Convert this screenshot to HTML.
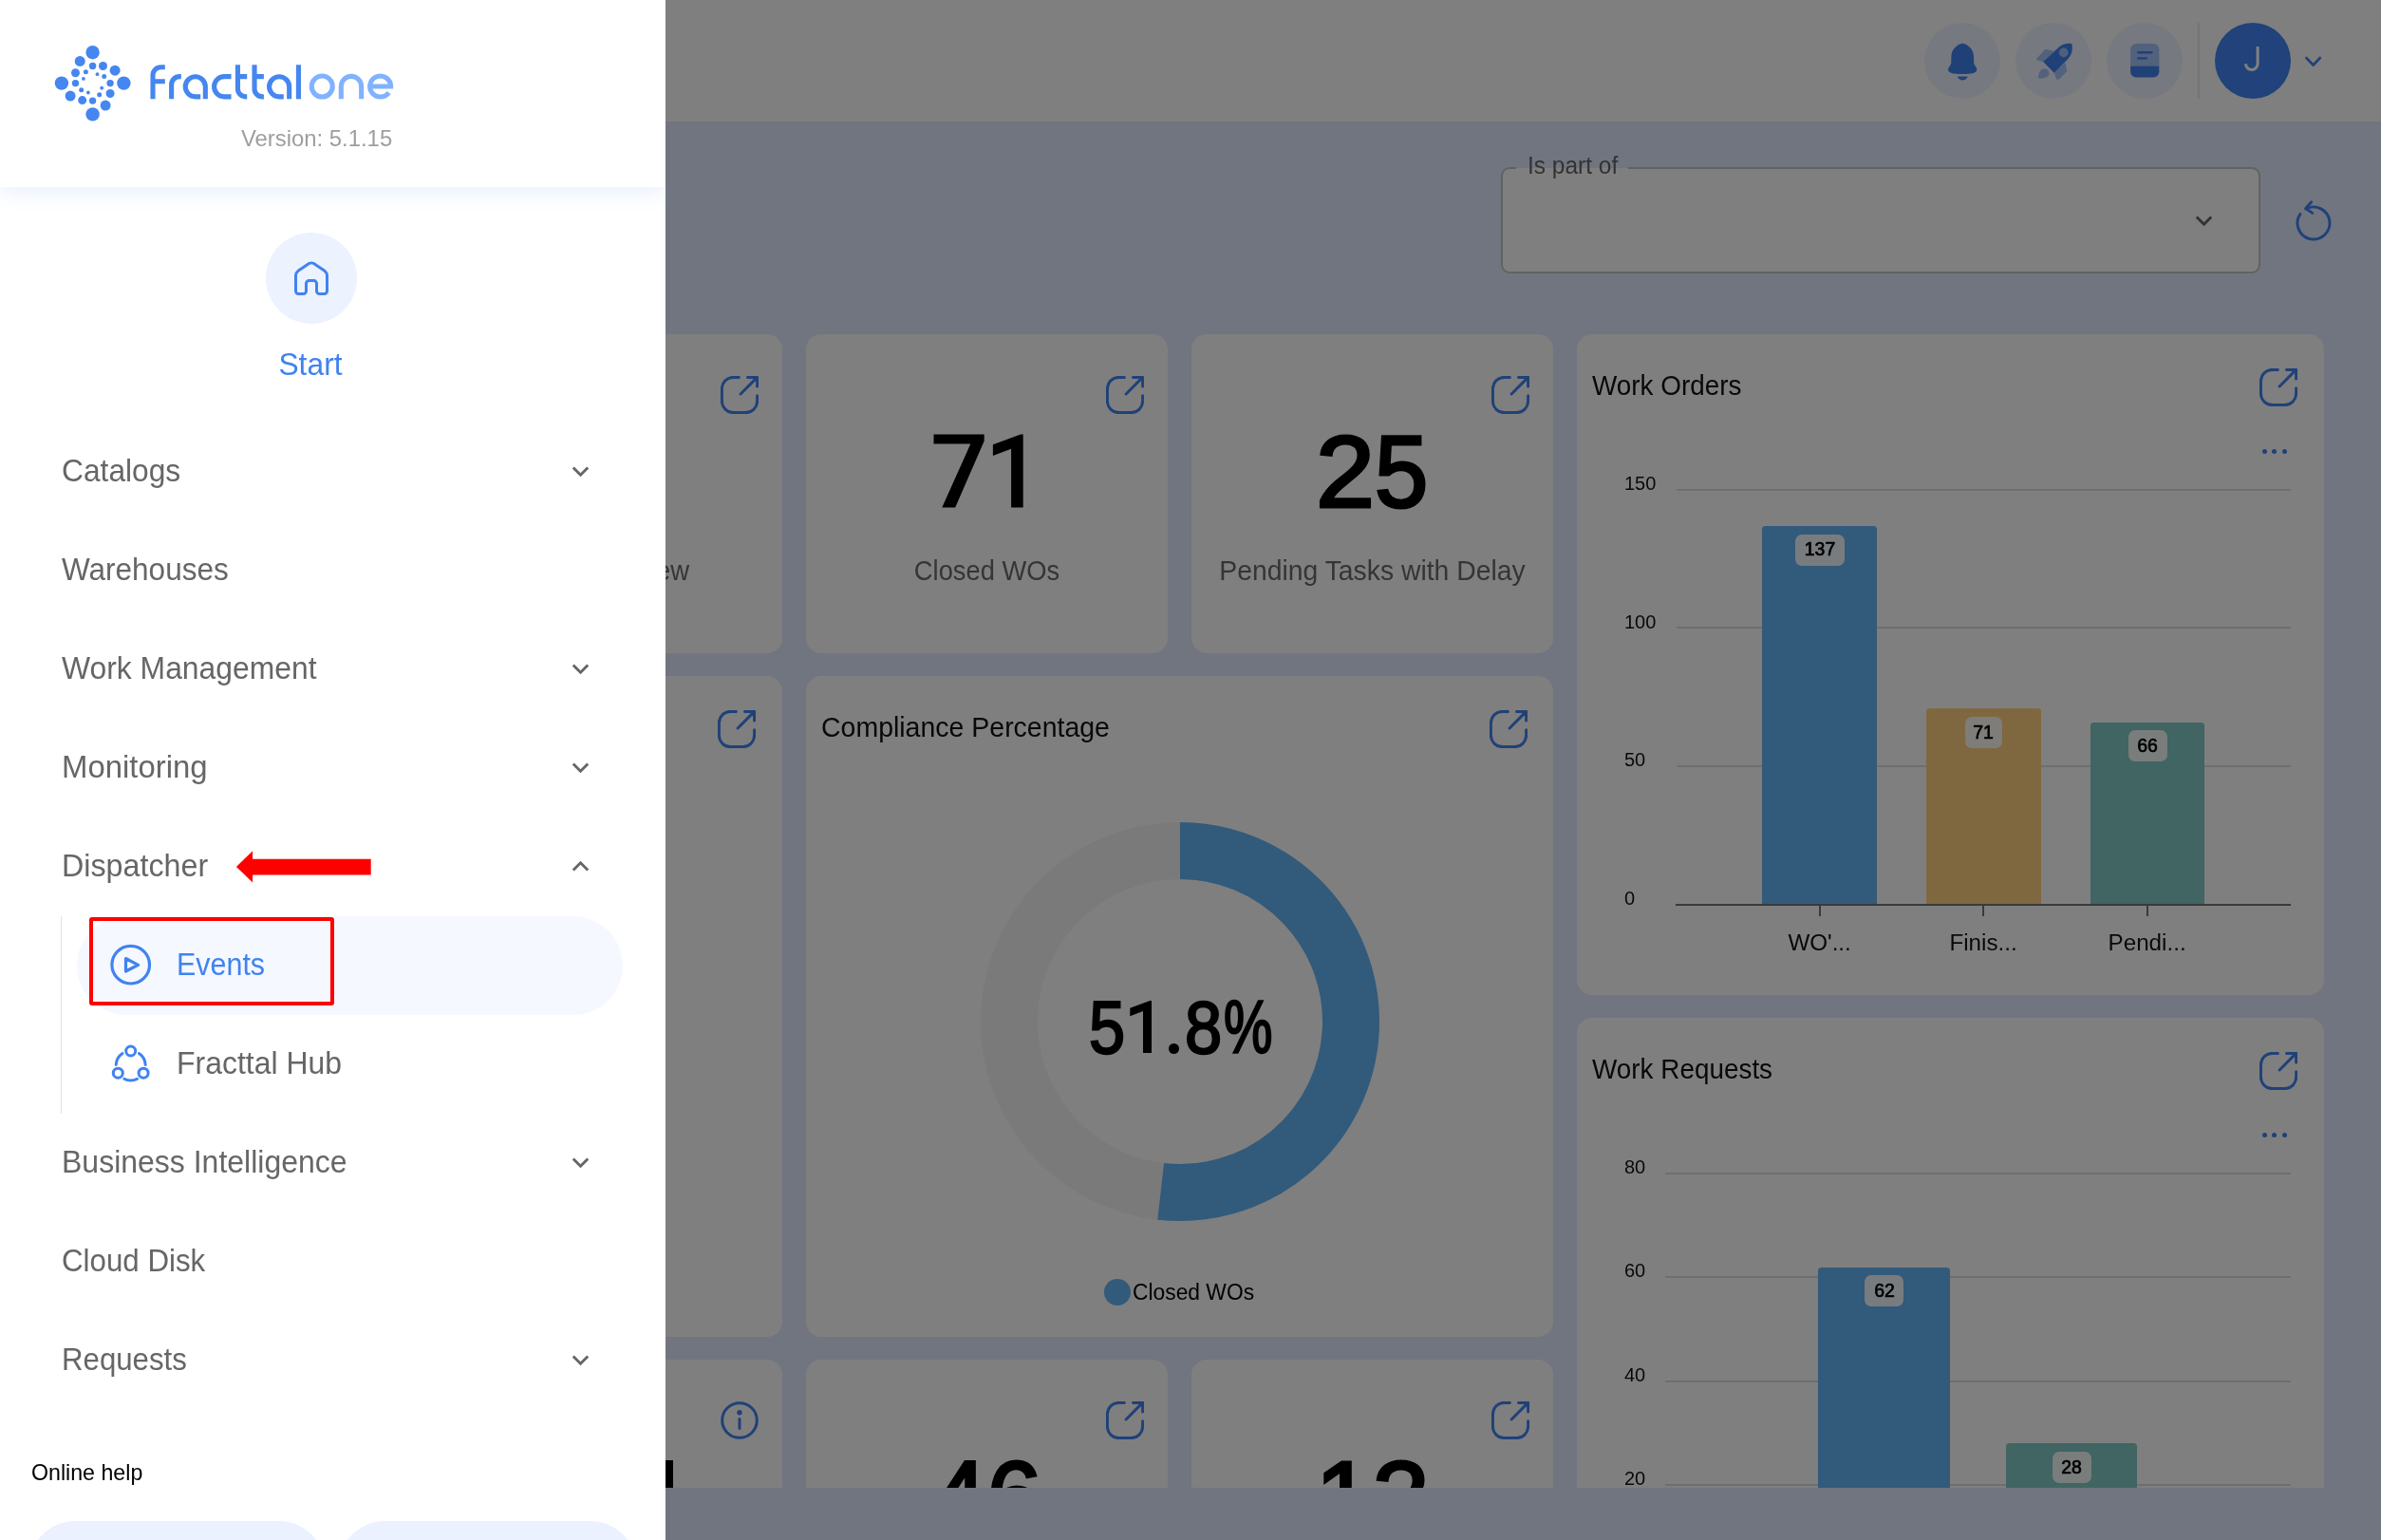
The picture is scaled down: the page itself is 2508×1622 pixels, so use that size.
<!DOCTYPE html>
<html lang="en">
<head>
<meta charset="utf-8">
<title>Fracttal One</title>
<style>
*{box-sizing:border-box;margin:0;padding:0}
html,body{width:2508px;height:1622px;overflow:hidden}
body{font-family:"Liberation Sans",sans-serif;background:#e3eafe;position:relative;color:#000}
.abs{position:absolute}
.t{position:absolute;white-space:nowrap;line-height:1}
/* ---------- page under overlay ---------- */
#page{position:absolute;left:0;top:0;width:2508px;height:1622px;background:#e3eafe;overflow:hidden;will-change:transform}
#topbar{position:absolute;left:0;top:0;width:2508px;height:128px;background:#fff}
.hcirc{position:absolute;top:24px;width:80px;height:80px;border-radius:50%;background:#ecf2ff}
#content{position:absolute;left:0;top:128px;width:2508px;height:1439px;overflow:hidden}
.card{position:absolute;background:#fff;border-radius:16px}
.kpi-num{position:absolute;left:0;width:100%;text-align:center;font-weight:bold;font-size:108px;line-height:1;color:#000;white-space:nowrap}
.kpi-lbl{position:absolute;left:0;width:100%;text-align:center;font-size:28px;line-height:1;color:#616161;white-space:nowrap}
.ctitle{position:absolute;font-size:28px;line-height:1;color:#111;white-space:nowrap}
.ext{position:absolute;width:44px;height:44px}
#overlay{position:absolute;left:0;top:0;width:2508px;height:1622px;background:rgba(0,0,0,.5)}
/* ---------- sidebar ---------- */
#side{position:absolute;left:0;top:0;width:701px;height:1622px;background:#fff;overflow:hidden;will-change:transform}
#sidehead{position:absolute;left:0;top:0;width:701px;height:197px;background:#fff;box-shadow:0 8px 18px rgba(66,133,244,.10)}
.mi{position:absolute;left:64.6px;margin-top:-0.4px;transform-origin:0 50%;font-size:33px;line-height:1;color:#666;white-space:nowrap}
.chev{position:absolute;left:593.8px;width:35px;height:35px;fill:#666}
</style>
</head>
<body>
<div id="page">
  <div id="topbar">
    <div class="hcirc" style="left:2027px"></div>
    <div class="hcirc" style="left:2123px"></div>
    <div class="hcirc" style="left:2219px"></div>
    <div class="abs" style="left:2315px;top:24px;width:1.8px;height:80px;background:#ebebeb"></div>
    <div class="abs" style="left:2333px;top:24px;width:80px;height:80px;border-radius:50%;background:#4285f4"></div>
    <svg class="abs" style="left:2333px;top:24px" width="80" height="80" viewBox="2333 24 80 80" fill="none" stroke="#fff" stroke-width="3.1"><path d="M2378.1,48.9V67.2A6.3,6.3 0 0 1 2365.5,67.2"/></svg>
    <svg class="abs" style="left:2020px;top:14px" width="290" height="100" viewBox="0 0 2381 821">
<g fill="#4083f0">
<path d="M387,260C412,260 432,278 452,296C476,318 485,350 485,385V420C485,440 498,455 507,470C518,490 508,510 482,517C440,528 335,528 293,517C267,510 257,490 268,470C277,455 290,440 290,420V385C290,350 299,318 323,296C343,278 362,260 387,260Z"/>
<path d="M343,545H433C426,565 407,578 388,578C369,578 350,565 343,545Z"/>
<path d="M1085,418L1222,292C1258,262 1300,258 1333,264C1342,300 1338,350 1300,395L1180,516Z"/>
<path d="M1840,455H2088V505A50,50 0 0 1 2038,555H1890A50,50 0 0 1 1840,505Z"/>
<rect x="1897" y="328" width="136" height="20" rx="10"/><rect x="1897" y="379" width="90" height="20" rx="10"/>
</g>
<g fill="#4083f0" fill-opacity=".42">
<circle cx="1262" cy="340" r="40" fill="#eef3fe" fill-opacity=".55"/>
<path d="M1028,392L1100,315Q1107,309 1117,312L1180,328L1085,418L1040,408Q1022,402 1028,392Z"/>
<path d="M1180,516L1276,424L1290,492Q1292,500 1286,507L1222,570Q1210,578 1200,568Z"/>
<path d="M1045,565C1040,540 1050,500 1075,484C1100,470 1128,485 1135,508C1140,530 1125,550 1100,557C1080,562 1060,566 1045,565Z"/>
<path d="M1840,455V313A50,50 0 0 1 1890,263H2038A50,50 0 0 1 2088,313V455Z"/>
</g></svg>
<svg class="abs" style="left:2420px;top:50px" width="34" height="30" viewBox="2420 50 34 30" fill="none" stroke="#4083f0" stroke-width="2.8" stroke-linecap="round" stroke-linejoin="round"><path d="M2429.5,61.1L2436.6,68.5L2443.7,61.1"/></svg>
  </div>
  <div id="content">
    <div class="abs" style="left:1581px;top:48px;width:800px;height:112px;border:2px solid #c4c4c4;border-radius:9px;background:#fff"></div>
    <div class="abs" style="left:1597px;top:46px;width:118px;height:6px;background:linear-gradient(#e3eafe 50%,#fff 50%)"></div>
    <div class="t" style="left:1609.2px;top:32.7px;font-size:26px;color:#666;transform-origin:0 50%;transform:scaleX(0.942);">Is part of</div>
    <svg class="abs" style="left:2303.8px;top:86.7px;fill:#666" width="35" height="35" viewBox="0 0 24 24"><path d="M16.59 8.59 12 13.17 7.41 8.59 6 10l6 6 6-6z"/></svg>
    <svg class="abs" style="left:2410.9px;top:80.80000000000001px" width="52" height="52" viewBox="-26 -26 52 52" fill="none" stroke="#4083f0" stroke-width="2.9" stroke-linecap="round" stroke-linejoin="round"><path d="M-8.09,-14.95A17,17 0 1 1 -14.03,-9.6"/><path d="M-2.34,-22.2L-8.4,-15.6L-1.3,-10.6"/></svg>
    <div class="card" style="left:443px;top:224px;width:381px;height:336px"></div><svg class="abs" style="left:759px;top:268px" width="40" height="40" viewBox="0 0 40 40" fill="none" stroke="#4083f0" stroke-width="3" stroke-linecap="round" stroke-linejoin="round"><path d="M19.3,1.4H13.4A12,12 0 0 0 1.4,13.4V26.6A12,12 0 0 0 13.4,38.6H26.6A12,12 0 0 0 38.6,26.6V20.8M21.1,19L38.6,1.4M28.6,1.4H38.6V11.1"/></svg>
    <div class="t" style="left:326px;top:458.6px;font-size:28.6px;color:#6a6a6a;width:400px;text-align:right;transform-origin:100% 50%;transform:scaleX(0.96);">Tasks in Review</div>
    <div class="card" style="left:849px;top:224px;width:381px;height:336px"></div><svg class="abs" style="left:1165px;top:268px" width="40" height="40" viewBox="0 0 40 40" fill="none" stroke="#4083f0" stroke-width="3" stroke-linecap="round" stroke-linejoin="round"><path d="M19.3,1.4H13.4A12,12 0 0 0 1.4,13.4V26.6A12,12 0 0 0 13.4,38.6H26.6A12,12 0 0 0 38.6,26.6V20.8M21.1,19L38.6,1.4M28.6,1.4H38.6V11.1"/></svg><div class="t" style="left:749px;top:458.6px;font-size:28.6px;color:#6a6a6a;width:581px;text-align:center;transform:scaleX(0.955);">Closed WOs</div>
    <svg class="abs" style="left:0;top:0;overflow:visible" width="1" height="1"><polygon points="983.5,329.5 1036.7,329.5 1036.7,336.6 1006.2,406.4 992.3,406.4 1022.3,339.6 983.5,339.6" fill="#000"/></svg><svg class="abs" style="left:0;top:0;overflow:visible" width="1" height="1"><polygon points="1077.7,329.5 1075.1,329.5 1045.9,340.3 1045.9,352.0 1065.1,344.7 1065.1,406.4 1077.7,406.4" fill="#000"/></svg>
    <div class="card" style="left:1255px;top:224px;width:381px;height:336px"></div><svg class="abs" style="left:1571px;top:268px" width="40" height="40" viewBox="0 0 40 40" fill="none" stroke="#4083f0" stroke-width="3" stroke-linecap="round" stroke-linejoin="round"><path d="M19.3,1.4H13.4A12,12 0 0 0 1.4,13.4V26.6A12,12 0 0 0 13.4,38.6H26.6A12,12 0 0 0 38.6,26.6V20.8M21.1,19L38.6,1.4M28.6,1.4H38.6V11.1"/></svg><div class="t" style="left:1155px;top:458.6px;font-size:28.6px;color:#6a6a6a;width:581px;text-align:center;transform:scaleX(0.991);">Pending Tasks with Delay</div>
    <div class="t" style="left:1386.1px;top:315.0px;font-size:108px;color:#000;-webkit-text-stroke:3.2px #000;transform-origin:0 50%;transform:scaleX(1.0327);">2</div><div class="t" style="left:1447.9px;top:315.0px;font-size:108px;color:#000;-webkit-text-stroke:3.2px #000;transform-origin:0 50%;transform:scaleX(0.937);">5</div>
    <div class="card" style="left:443px;top:584px;width:381px;height:696px"></div><svg class="abs" style="left:756px;top:620px" width="40" height="40" viewBox="0 0 40 40" fill="none" stroke="#4083f0" stroke-width="3" stroke-linecap="round" stroke-linejoin="round"><path d="M19.3,1.4H13.4A12,12 0 0 0 1.4,13.4V26.6A12,12 0 0 0 13.4,38.6H26.6A12,12 0 0 0 38.6,26.6V20.8M21.1,19L38.6,1.4M28.6,1.4H38.6V11.1"/></svg>
    <div class="card" style="left:849px;top:584px;width:787px;height:696px"></div><svg class="abs" style="left:1568.5px;top:620px" width="40" height="40" viewBox="0 0 40 40" fill="none" stroke="#4083f0" stroke-width="3" stroke-linecap="round" stroke-linejoin="round"><path d="M19.3,1.4H13.4A12,12 0 0 0 1.4,13.4V26.6A12,12 0 0 0 13.4,38.6H26.6A12,12 0 0 0 38.6,26.6V20.8M21.1,19L38.6,1.4M28.6,1.4H38.6V11.1"/></svg>
    <div class="t" style="left:865.1px;top:623.9px;font-size:28.6px;color:#111;transform-origin:0 50%;transform:scaleX(0.996);">Compliance Percentage</div>
    <svg class="abs" style="left:1023.4px;top:727.5px" width="440" height="440" viewBox="-220 -220 440 440" fill="none" stroke-width="60"><circle r="180.0" stroke="#f5f5f5"/><path d="M0,-180.0A180.0,180.0 0 1 1 -20.31,178.85" stroke="#64b5f6"/></svg>
    <div class="t" style="left:1146.5px;top:915.8px;font-size:77px;color:#000;-webkit-text-stroke:2.3px #000;transform-origin:0 50%;transform:scaleX(0.8897);">5</div>
    <svg class="abs" style="left:0;top:0;overflow:visible" width="1" height="1"><polygon points="1213.0,926.1 1211.1,926.1 1190.3,933.8 1190.3,942.2 1204.0,937.0 1204.0,981.1 1213.0,981.1" fill="#000"/></svg>
    <div class="abs" style="left:1230.9px;top:971.1px;width:10.8px;height:10.8px;border-radius:50%;background:#000"></div>
    <div class="t" style="left:1247.9px;top:915.8px;font-size:77px;color:#000;-webkit-text-stroke:2.3px #000;transform-origin:0 50%;transform:scaleX(0.9154);">8</div>
    <div class="t" style="left:1289.1px;top:915.8px;font-size:77px;color:#000;-webkit-text-stroke:2.3px #000;transform-origin:0 50%;transform:scaleX(0.7508);">%</div>
    <div class="abs" style="left:1162.7px;top:1219.0px;width:28.2px;height:28.2px;border-radius:50%;background:#64b5f6"></div>
    <div class="t" style="left:1193.3px;top:1222.0px;font-size:23px;color:#000;transform-origin:0 50%;transform:scaleX(0.992);">Closed WOs</div>
    <div class="card" style="left:443px;top:1304px;width:381px;height:336px"></div><svg class="abs" style="left:759px;top:1348px" width="40" height="40" viewBox="0 0 40 40" fill="none" stroke="#4083f0" stroke-width="3" stroke-linecap="round"><circle cx="20" cy="20" r="18.3"/><path d="M20,18.5V28.5"/><circle cx="20" cy="11.8" r="1.2" fill="#4083f0"/></svg>
    <div class="abs" style="left:690px;top:1410px;width:19px;height:80px;background:#000"></div>
    <div class="card" style="left:849px;top:1304px;width:381px;height:336px"></div><svg class="abs" style="left:1165px;top:1348px" width="40" height="40" viewBox="0 0 40 40" fill="none" stroke="#4083f0" stroke-width="3" stroke-linecap="round" stroke-linejoin="round"><path d="M19.3,1.4H13.4A12,12 0 0 0 1.4,13.4V26.6A12,12 0 0 0 13.4,38.6H26.6A12,12 0 0 0 38.6,26.6V20.8M21.1,19L38.6,1.4M28.6,1.4H38.6V11.1"/></svg><div class="t" style="left:849px;top:1395.0px;font-size:108px;color:#000;-webkit-text-stroke:3.2px #000;width:381px;text-align:center;transform:scaleX(0.96);">46</div>
    <div class="card" style="left:1255px;top:1304px;width:381px;height:336px"></div><svg class="abs" style="left:1571px;top:1348px" width="40" height="40" viewBox="0 0 40 40" fill="none" stroke="#4083f0" stroke-width="3" stroke-linecap="round" stroke-linejoin="round"><path d="M19.3,1.4H13.4A12,12 0 0 0 1.4,13.4V26.6A12,12 0 0 0 13.4,38.6H26.6A12,12 0 0 0 38.6,26.6V20.8M21.1,19L38.6,1.4M28.6,1.4H38.6V11.1"/></svg><div class="t" style="left:1255px;top:1395.0px;font-size:108px;color:#000;-webkit-text-stroke:3.2px #000;width:381px;text-align:center;transform:scaleX(1);">12</div>
    <div class="card" style="left:1661px;top:224px;width:787px;height:696px"></div><svg class="abs" style="left:2379.7px;top:260px" width="40" height="40" viewBox="0 0 40 40" fill="none" stroke="#4083f0" stroke-width="3" stroke-linecap="round" stroke-linejoin="round"><path d="M19.3,1.4H13.4A12,12 0 0 0 1.4,13.4V26.6A12,12 0 0 0 13.4,38.6H26.6A12,12 0 0 0 38.6,26.6V20.8M21.1,19L38.6,1.4M28.6,1.4H38.6V11.1"/></svg>
    <div class="t" style="left:1677.3px;top:263.5px;font-size:28.6px;color:#111;transform-origin:0 50%;transform:scaleX(0.975);">Work Orders</div>
    <div class="abs" style="left:2382.5px;top:344.6px;width:5px;height:5px;border-radius:50%;background:#4083f0"></div><div class="abs" style="left:2393.2px;top:344.6px;width:5px;height:5px;border-radius:50%;background:#4083f0"></div><div class="abs" style="left:2403.9px;top:344.6px;width:5px;height:5px;border-radius:50%;background:#4083f0"></div>
    <div class="abs" style="left:1765.5px;top:386.8px;width:647.2px;height:2px;background:#dcdcdc"></div>
    <div class="t" style="left:1711px;top:370.9px;font-size:20px;color:#111;transform-origin:0 50%;transform:scaleX(1.0);">150</div>
    <div class="abs" style="left:1765.5px;top:532.4px;width:647.2px;height:2px;background:#dcdcdc"></div>
    <div class="t" style="left:1711px;top:516.5px;font-size:20px;color:#111;transform-origin:0 50%;transform:scaleX(1.0);">100</div>
    <div class="abs" style="left:1765.5px;top:677.9px;width:647.2px;height:2px;background:#dcdcdc"></div>
    <div class="t" style="left:1711px;top:662.0px;font-size:20px;color:#111;transform-origin:0 50%;transform:scaleX(1.0);">50</div>
    <div class="t" style="left:1711px;top:807.8px;font-size:20px;color:#111;transform-origin:0 50%;transform:scaleX(1.0);">0</div>
    <div class="abs" style="left:1856.4px;top:425.8px;width:120.6px;height:398.6px;background:#64b5f6;border-radius:3.5px 3.5px 0 0"></div><div class="abs" style="left:1890.7px;top:434.5px;width:52px;height:33px;border-radius:7px;background:rgba(255,255,255,.9)"></div><div class="t" style="left:1866.7px;top:440.3px;font-size:20px;color:#000;-webkit-text-stroke:.7px #000;width:100px;text-align:center;transform:scaleX(0.97);">137</div>
    <div class="abs" style="left:2029.2px;top:618.0px;width:120.4px;height:206.4px;background:#ffd180;border-radius:3.5px 3.5px 0 0"></div><div class="abs" style="left:2069.9px;top:626.7px;width:39px;height:33px;border-radius:7px;background:rgba(255,255,255,.9)"></div><div class="t" style="left:2039.4px;top:632.5px;font-size:20px;color:#000;-webkit-text-stroke:.7px #000;width:100px;text-align:center;transform:scaleX(0.97);">71</div>
    <div class="abs" style="left:2201.8px;top:632.6px;width:120.4px;height:191.8px;background:#80cbc4;border-radius:3.5px 3.5px 0 0"></div><div class="abs" style="left:2241.5px;top:641.3px;width:41px;height:33px;border-radius:7px;background:rgba(255,255,255,.9)"></div><div class="t" style="left:2212.0px;top:647.1px;font-size:20px;color:#000;-webkit-text-stroke:.7px #000;width:100px;text-align:center;transform:scaleX(0.97);">66</div>
    <div class="abs" style="left:1765.3px;top:823.7px;width:647.4px;height:2px;background:#757575"></div>
    <div class="abs" style="left:1915.6px;top:824.7px;width:2px;height:12px;background:#757575"></div>
    <div class="t" style="left:1816.6px;top:853.0px;font-size:24.2px;color:#111;width:200px;text-align:center;transform:scaleX(1);">WO'...</div>
    <div class="abs" style="left:2088.1px;top:824.7px;width:2px;height:12px;background:#757575"></div>
    <div class="t" style="left:1989.1px;top:853.0px;font-size:24.2px;color:#111;width:200px;text-align:center;transform:scaleX(1);">Finis...</div>
    <div class="abs" style="left:2260.6px;top:824.7px;width:2px;height:12px;background:#757575"></div>
    <div class="t" style="left:2161.6px;top:853.0px;font-size:24.2px;color:#111;width:200px;text-align:center;transform:scaleX(1);">Pendi...</div>
    <div class="card" style="left:1661px;top:944px;width:787px;height:696px"></div><svg class="abs" style="left:2379.7px;top:980px" width="40" height="40" viewBox="0 0 40 40" fill="none" stroke="#4083f0" stroke-width="3" stroke-linecap="round" stroke-linejoin="round"><path d="M19.3,1.4H13.4A12,12 0 0 0 1.4,13.4V26.6A12,12 0 0 0 13.4,38.6H26.6A12,12 0 0 0 38.6,26.6V20.8M21.1,19L38.6,1.4M28.6,1.4H38.6V11.1"/></svg>
    <div class="t" style="left:1677.3px;top:983.5px;font-size:28.6px;color:#111;transform-origin:0 50%;transform:scaleX(0.975);">Work Requests</div>
    <div class="abs" style="left:2382.5px;top:1064.6px;width:5px;height:5px;border-radius:50%;background:#4083f0"></div><div class="abs" style="left:2393.2px;top:1064.6px;width:5px;height:5px;border-radius:50%;background:#4083f0"></div><div class="abs" style="left:2403.9px;top:1064.6px;width:5px;height:5px;border-radius:50%;background:#4083f0"></div>
    <div class="abs" style="left:1754px;top:1106.8px;width:658.9px;height:2px;background:#dcdcdc"></div>
    <div class="t" style="left:1711px;top:1090.9px;font-size:20px;color:#111;transform-origin:0 50%;transform:scaleX(1.0);">80</div>
    <div class="abs" style="left:1754px;top:1216.2px;width:658.9px;height:2px;background:#dcdcdc"></div>
    <div class="t" style="left:1711px;top:1200.3px;font-size:20px;color:#111;transform-origin:0 50%;transform:scaleX(1.0);">60</div>
    <div class="abs" style="left:1754px;top:1325.5px;width:658.9px;height:2px;background:#dcdcdc"></div>
    <div class="t" style="left:1711px;top:1309.6px;font-size:20px;color:#111;transform-origin:0 50%;transform:scaleX(1.0);">40</div>
    <div class="abs" style="left:1754px;top:1434.8px;width:658.9px;height:2px;background:#dcdcdc"></div>
    <div class="t" style="left:1711px;top:1418.9px;font-size:20px;color:#111;transform-origin:0 50%;transform:scaleX(1.0);">20</div>
    <div class="abs" style="left:1915.2px;top:1206.5px;width:138.6px;height:365.5px;background:#64b5f6;border-radius:3.5px 3.5px 0 0"></div><div class="abs" style="left:1964.0px;top:1215.2px;width:41px;height:33px;border-radius:7px;background:rgba(255,255,255,.9)"></div><div class="t" style="left:1934.5px;top:1221.0px;font-size:20px;color:#000;-webkit-text-stroke:.7px #000;width:100px;text-align:center;transform:scaleX(0.97);">62</div>
    <div class="abs" style="left:2113.2px;top:1392.2px;width:138.1px;height:179.8px;background:#80cbc4;border-radius:3.5px 3.5px 0 0"></div><div class="abs" style="left:2161.8px;top:1400.9px;width:41px;height:33px;border-radius:7px;background:rgba(255,255,255,.9)"></div><div class="t" style="left:2132.25px;top:1406.7px;font-size:20px;color:#000;-webkit-text-stroke:.7px #000;width:100px;text-align:center;transform:scaleX(0.97);">28</div>
  </div>
</div>
<div id="overlay"></div>
<div id="side">
  <div class="abs" style="left:81px;top:965px;width:575px;height:104px;border-radius:52px;background:#f5f8ff"></div>
  <div class="abs" style="left:63.6px;top:965px;width:1.6px;height:208px;background:#e2e2e2"></div>
  <div id="sidehead"></div>
  <svg class="abs" style="left:40px;top:30px" width="120" height="120" viewBox="0 0 120 120" fill="#4586f0"><circle cx="57.6" cy="25.2" r="7.2"/><circle cx="24.9" cy="57.6" r="7.2"/><circle cx="90.4" cy="57.6" r="7.2"/><circle cx="57.6" cy="90.4" r="7.2"/><circle cx="44.2" cy="34.4" r="5.5"/><circle cx="81.1" cy="44.2" r="5.5"/><circle cx="34.1" cy="71.1" r="5.5"/><circle cx="71.1" cy="81.1" r="5.5"/><circle cx="39.5" cy="46.7" r="4.5"/><circle cx="68.5" cy="39.5" r="4.5"/><circle cx="46.7" cy="75.6" r="4.5"/><circle cx="76.1" cy="68.5" r="4.5"/><circle cx="57.6" cy="39.5" r="3.7"/><circle cx="39.5" cy="57.6" r="3.7"/><circle cx="76.1" cy="57.6" r="3.7"/><circle cx="57.6" cy="76.1" r="3.7"/><circle cx="50.4" cy="45.7" r="2.5"/><circle cx="69.7" cy="50.4" r="2.5"/><circle cx="45.7" cy="64.7" r="2.5"/><circle cx="64.7" cy="69.7" r="2.5"/><circle cx="47.9" cy="52.9" r="1.9"/><circle cx="62.5" cy="48.2" r="1.9"/><circle cx="52.9" cy="67.5" r="1.9"/><circle cx="67.2" cy="62.7" r="1.9"/></svg>
  <svg class="abs" style="left:150px;top:55px" width="270" height="60" viewBox="0 0 2381 529" fill="none" stroke-width="45">
<g stroke="#4586f0"><path d="M97,435V215A75,75 0 0 1 172,139H210M97,271H210"/><path d="M270,435V300A74,74 0 0 1 344,226H360"/><path d="M585,435V320A93,93 0 1 0 492,413H540"/><path d="M825,226H760A93,93 0 0 0 760,413H825"/><path d="M886,117V340A73,73 0 0 0 959,413H972M886,226H972"/><path d="M1041,117V340A73,73 0 0 0 1114,413H1128M1041,226H1128"/><path d="M1364,435V320A93,93 0 1 0 1271,413H1312"/><path d="M1450,117V435"/></g>
<g stroke="#80b2ff"><circle cx="1669" cy="318" r="97"/><path d="M1846,435V318A94,94 0 0 1 2034,318V435"/><path d="M2113,318H2307A97,97 0 1 0 2289,374"/></g></svg>
  <div class="t" style="left:254px;top:133.7px;font-size:24px;color:#9e9e9e;transform-origin:0 50%;transform:scaleX(0.994)">Version: 5.1.15</div>
  <div class="abs" style="left:280px;top:245px;width:96px;height:96px;border-radius:50%;background:#ecf2fe"></div>
  <svg class="abs" style="left:310px;top:275px" width="36" height="36" viewBox="0 0 36 36" fill="none" stroke="#4083f0" stroke-width="3" stroke-linejoin="round"><path d="M12.5,31.5V23.6a3,3 0 0 1 3,-3h5a3,3 0 0 1 3,3V31.5a3,3 0 0 0 3,3h5a3,3 0 0 0 3,-3V15c0,-2 -1,-3.5 -2.5,-4.7L22.3,3.7C19.8,1.3 16.2,1.3 13.7,3.7L4,10.3C2.5,11.5 1.5,13 1.5,15V31.5a3,3 0 0 0 3,3h5a3,3 0 0 0 3,-3z"/></svg>
  <div class="t" style="left:226.8px;width:200px;text-align:center;top:367.0px;font-size:33px;color:#4083f0;transform:scaleX(0.964)">Start</div>
  <div class="mi" style="top:479.8px;transform:scaleX(0.9615)">Catalogs</div>
  <svg class="chev" style="top:479.0px" viewBox="0 0 24 24"><path d="M16.59 8.59 12 13.17 7.41 8.59 6 10l6 6 6-6z"/></svg>
  <div class="mi" style="top:583.8px;transform:scaleX(0.9547)">Warehouses</div>
  <div class="mi" style="top:687.8px;transform:scaleX(0.9654)">Work Management</div>
  <svg class="chev" style="top:687.0px" viewBox="0 0 24 24"><path d="M16.59 8.59 12 13.17 7.41 8.59 6 10l6 6 6-6z"/></svg>
  <div class="mi" style="top:791.8px;transform:scaleX(0.9970)">Monitoring</div>
  <svg class="chev" style="top:791.0px" viewBox="0 0 24 24"><path d="M16.59 8.59 12 13.17 7.41 8.59 6 10l6 6 6-6z"/></svg>
  <div class="mi" style="top:895.8px;transform:scaleX(0.978)">Dispatcher</div>
  <svg class="chev" style="top:895.0px" viewBox="0 0 24 24"><path d="M12 8l-6 6 1.41 1.41L12 10.83l4.59 4.58L18 14z"/></svg>
  <div class="mi" style="top:1207.8px;transform:scaleX(0.9696)">Business Intelligence</div>
  <svg class="chev" style="top:1207.0px" viewBox="0 0 24 24"><path d="M16.59 8.59 12 13.17 7.41 8.59 6 10l6 6 6-6z"/></svg>
  <div class="mi" style="top:1311.8px;transform:scaleX(0.9478)">Cloud Disk</div>
  <div class="mi" style="top:1415.8px;transform:scaleX(0.9458)">Requests</div>
  <svg class="chev" style="top:1415.0px" viewBox="0 0 24 24"><path d="M16.59 8.59 12 13.17 7.41 8.59 6 10l6 6 6-6z"/></svg>
  <svg class="abs" style="left:112px;top:990px" width="52" height="52" viewBox="-26 -26 52 52" fill="none" stroke="#4083f0" stroke-width="3.2" stroke-linejoin="round"><circle cx="-0.3" cy="0.2" r="19.8"/><path d="M-5.5,-6.5L7.5,0.3L-5.5,7Z"/></svg>
  <div class="mi" style="left:186.3px;top:999.8px;color:#4083f0;transform:scaleX(0.9228)">Events</div>
  <svg class="abs" style="left:100px;top:1085px" width="76" height="76" viewBox="0 0 76 76" fill="none" stroke="#4083f0" stroke-width="3" stroke-linecap="round"><path d="M46.4,24.6A15.5,15.5 0 0 1 53.2,36.4M44.5,51.4A15.5,15.5 0 0 1 30.9,51.4M22.2,36.4A15.5,15.5 0 0 1 29.0,24.6"/><circle cx="37.7" cy="22.0" r="5"/><circle cx="24.3" cy="45.2" r="5"/><circle cx="51.1" cy="45.2" r="5"/></svg>
  <div class="mi" style="left:186.3px;top:1103.8px;transform:scaleX(0.968)">Fracttal Hub</div>
  <div class="abs" style="left:94px;top:966px;width:258px;height:93px;border:4.5px solid #ff0000;border-radius:3px"></div>
  <svg class="abs" style="left:240px;top:890px" width="160" height="46" viewBox="240 890 160 46"><path d="M248.9,912.9L266.1,896.3V904.8H390.7V921.4H266.1V929.5Z" fill="#ff0000"/></svg>
  <div class="t" style="left:32.8px;top:1538.6px;font-size:24px;color:#000;transform-origin:0 50%;transform:scaleX(0.966)">Online help</div>
  <div class="abs" style="left:31px;top:1602px;width:311px;height:96px;border-radius:48px;background:#ebf1fe"></div>
  <div class="abs" style="left:356.5px;top:1602px;width:313.5px;height:96px;border-radius:48px;background:#ebf1fe"></div>
</div>
</body>
</html>
